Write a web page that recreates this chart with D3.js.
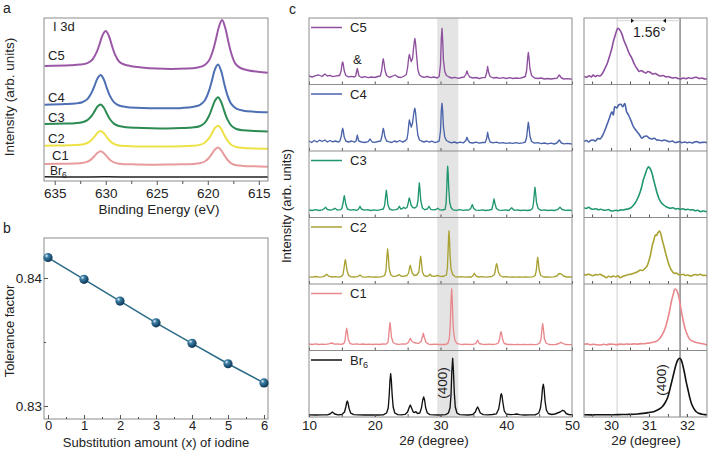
<!DOCTYPE html>
<html><head><meta charset="utf-8">
<script src="https://cdn.jsdelivr.net/npm/d3@7"></script>
<style>body{margin:0;background:#fff}</style>
</head><body>
<svg id="chart" width="709" height="451"></svg>
<script>
// ---------------- DATA ----------------
// Panel a: I 3d XPS (binding energy eV, intensity arb.)
const xpsE_C5 = [636,633.5,632.5,631.8,631.3,630.9,630.6,630.3,630.0,629.7,629.4,629.1,628.7,628.2,627.5,626.5,625.0,623.6,622.1,621.1,620.4,619.9,619.5,619.2,618.9,618.6,618.3,618.0,617.7,617.3,616.8,616.1,615.1,614.1];
const xpsE = [636,634,633,632.3,631.8,631.4,631.1,630.8,630.5,630.2,629.9,629.6,629.2,628.7,628.0,627.0,625.5,624.0,622.5,621.5,620.8,620.3,619.9,619.6,619.3,619.0,618.7,618.4,618.1,617.7,617.2,616.5,615.5,614.1];
const xpsC5 = [115,115.7,116.4,117.9,121.5,128.7,137,146.1,150,145.3,135.6,126.7,119.5,116.5,114.8,113.6,112.4,112,112.4,113.3,115.3,120.3,130.3,142,154.5,161,153.5,140,127.7,117.4,113,110.8,109.3,108.3];
const xpsC4 = [76.3,76.9,77.5,78.8,81.9,88.1,95.2,102.8,106,101.8,93.2,85.4,78.9,75.5,74,73.2,72.8,72.7,73.1,74,75.9,80.5,89.7,100.3,111.7,116.5,110.3,97.8,86.5,77.1,72.3,70.3,69.3,68.7];
const xpsC3 = [57,57.4,57.8,58.7,60.8,65,69.6,74.5,76.5,73.5,67.5,62,57.4,55,53.8,53.2,52.7,52.5,52.9,53.5,54.8,58.1,64.7,72.3,80.3,83.8,79.3,70.4,62.1,55.4,52,50.7,50.1,49.6];
const xpsC2 = [35.3,35.6,35.9,36.5,38,41,44.4,48.2,49.9,48,44,40.3,37.2,35.6,35,34.6,34.5,34.5,34.7,35.2,36.1,38.3,42.6,47.6,53.1,55.3,52.4,46.3,40.9,36.3,34,33,32.4,32.2];
const xpsC1 = [17,17.3,17.5,18,19.3,21.9,25,28.2,29.7,28,24.6,21.3,18.7,17.3,16.8,16.6,16.3,16.4,16.7,17,17.7,19.5,23,27.2,31.5,33.4,30.9,26.1,21.5,17.7,15.8,15.1,14.7,14.3];
const xpsBr6 = [[636,4.3],[633,4],[630,4.2],[627,3.9],[624,4.1],[621,4],[618,4.1],[615,3.9],[614.1,4]];
const xpsTicks = [635,630,625,620,615];
const xpsMinor = [632.5,627.5,622.5,617.5];

// Panel b: tolerance factor
const subX = [0,1,2,3,4,5,6];
const tolerance = [0.8416,0.8399,0.8382,0.8365,0.8349,0.8333,0.8318];
const tolTicks = [0.83,0.84];

// Panel c: XRD (2theta, intensity in panel units)
const xrdC5 = [[10,8.5],[10.5,7.5],[11,8.8],[11.5,9.5],[12,8],[12.4,10.5],[12.8,8.5],[13.2,9.2],[13.6,7.8],[14,8.3],[14.5,9],
[14.65,8.8],[14.9,14],[15.02,20.5],[15.12,22.5],[15.22,20],[15.35,14],[15.6,9],[16,7.6],[16.5,8.2],[16.9,7.5],
[17.1,8.5],[17.25,13.5],[17.35,16],[17.45,13],[17.6,8.5],[18,7],[18.5,7.8],[19,6.8],[19.5,7.5],[20,7],[20.5,8],
[20.85,8.5],[21.05,14],[21.2,22.5],[21.3,25.7],[21.4,22],[21.55,14.5],[21.8,9],[22.2,7.2],[22.6,8],[23.1,9.5],[23.5,7.5],[24,7],[24.5,8.5],
[24.8,10],[25.0,17],[25.15,26],[25.26,30],[25.38,27],[25.55,23],[25.75,26],[25.9,36],[26.02,43],[26.1,46],[26.2,42],[26.35,30],[26.55,15],[26.8,9.5],
[27.1,8],[27.5,7.2],[28,8],[28.5,6.8],[29,7.5],[29.5,6.5],
[29.8,8],[30.0,20],[30.12,45],[30.23,56],[30.33,44],[30.45,24],[30.65,13],[30.9,9],
[31.3,7.5],[31.7,6.5],[32.2,7.2],[32.7,6.2],[33.2,7],[33.6,7.5],[33.85,10],[34.03,13.5],[34.2,10],[34.45,7.5],
[34.9,6.5],[35.4,7],[35.9,6],[36.4,6.8],[36.8,7],[37.0,11],[37.17,18],[37.32,12],[37.55,8],
[38,6.5],[38.5,7],[39,6.2],[39.5,6.8],[40,6],[40.5,6.8],[41,6],[41.5,6.5],[42,6.2],[42.5,7],[42.9,8],
[43.1,14],[43.25,26],[43.36,32],[43.46,27],[43.6,16],[43.85,9],[44.3,6.5],[44.8,6],[45.3,6.5],[45.8,5.5],[46.3,6],[46.8,5.5],[47.3,6],[47.7,6.2],
[48.07,9.5],[48.4,6.5],[48.8,5.5],[49.3,5.8],[50,5.2]];
const xrdC4 = [[10,10],[10.4,8.5],[10.8,10.5],[11.2,9],[11.6,10.8],[12,9.5],[12.4,11],[12.8,9],[13.2,10.5],[13.6,9.2],[14,10],[14.5,9],
[14.7,10],[14.92,15],[15.03,20],[15.12,22.7],[15.22,20],[15.35,14],[15.6,10],[16,9],[16.5,10],[16.9,8.8],
[17.15,10],[17.35,15.8],[17.55,10],[18,9],[18.5,8.5],[19,9.3],[19.3,12],[19.6,9],[20,8.6],[20.5,9.5],
[20.9,10],[21.1,15],[21.22,20],[21.3,22.5],[21.4,20],[21.55,14],[21.8,10],[22.2,9.2],[22.6,8.5],[23,10],[23.4,9],[23.8,10.5],[24.2,9],[24.6,10],
[24.9,12],[25.05,18],[25.18,27],[25.26,31],[25.38,28],[25.55,24],[25.75,28],[25.9,36],[26.02,41],[26.1,42.7],[26.2,39],[26.35,28],[26.55,16],[26.8,11],
[27.1,10],[27.5,9],[27.9,10],[28.3,8.8],[28.7,9.8],[29.1,8.5],[29.5,9.2],
[29.8,10],[30.0,20],[30.12,40],[30.23,47.7],[30.33,40],[30.45,24],[30.65,14],[30.9,10.5],
[31.3,9],[31.7,8.2],[32.1,9],[32.5,8],[33,8.8],[33.5,8.2],[33.85,10.5],[34.03,13.7],[34.2,10.5],[34.45,8.5],
[34.9,8],[35.4,8.8],[35.9,7.8],[36.4,8.5],[36.8,8.5],[37.0,12],[37.17,18.7],[37.32,13],[37.55,9],
[38,8.2],[38.5,8.8],[39,7.8],[39.5,8.4],[40,7.6],[40.5,8.2],[41,7.6],[41.5,8.3],[42,7.6],[42.5,8.2],[42.9,9],
[43.1,14],[43.25,23],[43.36,28.7],[43.46,24],[43.6,15],[43.85,9.5],[44.3,7.8],[44.8,8.3],[45.3,7.4],[45.8,8],[46.3,7.2],[46.8,7.8],[47.3,7],[47.7,8],
[48.07,11],[48.4,8],[48.8,7.2],[49.3,7.6],[50,7]];
const xrdC3 = [[10,7.5],[10.5,7],[11,7.8],[11.5,7],[12,7.6],[12.25,8.5],[12.53,10.2],[12.8,8],[13.2,7.3],[13.6,7.8],[13.95,9.2],[14.3,7.5],[14.8,7.8],
[15.0,9],[15.2,15],[15.3,19.5],[15.37,21.8],[15.45,19],[15.6,13],[15.85,8.5],
[16.3,7.4],[16.8,7.8],[17.3,7.2],[17.55,8.5],[17.76,11.2],[17.95,8.5],[18.4,7.3],[18.9,7.8],[19.4,7],[19.9,7.6],[20.4,7.2],[20.9,7.8],[21.3,8.5],
[21.5,12],[21.65,21],[21.76,27.2],[21.86,22],[22.0,13],[22.25,8.5],
[22.7,7.4],[23.2,7.8],[23.5,8.5],[23.74,11.2],[23.95,8.5],[24.2,9],[24.4,10.2],[24.65,9],[24.9,10],
[25.08,14],[25.18,18],[25.26,19.5],[25.36,17],[25.55,12],[25.8,10],[26.1,9.5],[26.4,11],
[26.58,17],[26.7,29],[26.78,34.5],[26.87,29],[27.0,17],[27.25,9.5],
[27.6,7.8],[28.0,8.5],[28.25,11.2],[28.5,8.2],[28.9,7.6],[29.3,8],[29.57,9.2],[29.85,7.8],[30.3,7.5],[30.7,8.2],
[30.85,14],[30.97,32],[31.03,45],[31.09,51.2],[31.16,45],[31.25,30],[31.4,15],[31.6,10],
[31.9,7.6],[32.4,7.2],[32.9,7.8],[33.4,7.1],[33.9,7.6],[34.3,7.4],[34.6,9],[34.84,12.9],[35.05,9],[35.4,7.4],[35.9,7.2],[36.4,7.6],[36.9,7],[37.4,7.5],[37.8,8],
[37.98,13],[38.14,18.5],[38.28,14],[38.5,9],[38.9,7.4],[39.4,7.2],[39.9,7.6],[40.4,7],[40.82,9.7],[41.2,7.2],[41.7,7.6],[42.2,7],[42.7,7.4],[43.2,7],[43.7,7.5],[44.0,9],
[44.15,15],[44.28,25],[44.37,30.2],[44.46,25],[44.6,15],[44.85,9],
[45.3,7.2],[45.8,7.6],[46.3,7],[46.8,7.4],[47.3,7],[47.8,7.8],[48.17,10.2],[48.5,8],[49,7.2],[49.5,7.4],[50,7]];
const xrdC2 = [[10,7.2],[10.5,6.8],[11,7.5],[11.5,6.8],[12,7.2],[12.4,8],[12.69,9.7],[13,7.8],[13.5,7],[14,7.4],[14.5,6.9],[14.9,7.5],
[15.15,9],[15.33,16],[15.45,22],[15.53,24.3],[15.62,21],[15.77,14],[16.0,8.8],
[16.4,7.2],[16.9,7],[17.4,7.4],[17.76,9],[18.1,7.2],[18.6,6.8],[19.1,7.3],[19.6,6.9],[20.1,7.2],[20.6,6.8],[21.1,7.3],[21.5,8.5],
[21.7,13],[21.85,27],[21.96,35],[22.06,28],[22.2,15],[22.45,9],
[22.8,7.5],[23.2,7.8],[23.5,8.5],[23.7,9.5],[23.95,8],[24.4,7.6],[24.9,8.5],
[25.15,11],[25.3,16.5],[25.4,18.7],[25.5,16],[25.7,11],[26.0,8.5],[26.4,9],
[26.72,12],[26.88,23],[26.98,27.7],[27.08,23],[27.25,12],[27.5,8.5],
[27.9,7.6],[28.2,8.2],[28.4,9.7],[28.65,8],[29.0,7.6],[29.3,8],[29.57,8.7],[29.85,7.8],[30.2,7.5],[30.6,8],[30.9,9],
[31.05,16],[31.17,36],[31.23,47],[31.29,53],[31.36,46],[31.45,30],[31.6,15],[31.85,9.5],
[32.2,7.4],[32.7,7],[33.2,7.3],[33.7,6.8],[34.2,7.2],[34.7,7],[34.95,8.5],[35.15,10.7],[35.35,8.2],[35.8,7],[36.3,7.3],[36.8,6.9],[37.3,7.2],[37.8,7.5],[38.2,9.5],
[38.35,14],[38.45,18.5],[38.54,20.3],[38.64,18],[38.8,12],[39.05,8.5],
[39.5,7],[40,7.3],[40.5,6.8],[41,7.2],[41.5,6.8],[42,7.2],[42.5,6.8],[43,7.1],[43.5,6.8],[44,7.2],[44.4,8.5],
[44.58,14],[44.7,23],[44.78,26.7],[44.87,23],[45.0,14],[45.25,8.5],
[45.7,7],[46.2,7.2],[46.7,6.8],[47.2,7.2],[47.7,8],[47.95,10],[48.17,10.5],[48.4,9.8],[48.7,8],[49.2,7],[49.6,7.2],[50,6.8]];
const xrdC1 = [[10,6.5],[10.5,6],[11,6.6],[11.5,6],[12,6.4],[12.5,6.1],[13,6.6],[13.45,7.5],[13.9,6.3],[14.4,6.5],[14.9,6.2],[15.3,7],
[15.48,10],[15.62,18],[15.73,22.2],[15.83,18.5],[15.98,11],[16.25,7],
[16.7,6.2],[17.2,6.6],[17.7,6.1],[18.2,6.5],[18.7,6],[19.2,6.4],[19.7,6],[20.2,6.4],[20.7,6],[21.2,6.5],[21.7,6.3],[22.0,8],
[22.1,13],[22.23,23],[22.32,27.8],[22.41,23],[22.55,13],[22.8,8],
[23.2,6.5],[23.7,6.2],[24.2,6.6],[24.7,6.4],[25.1,8],[25.41,12.2],[25.65,9],[25.95,8],[26.3,7.5],[26.7,7.2],[27.05,9],
[27.22,13],[27.39,17.2],[27.55,13],[27.8,8],
[28.2,6.4],[28.7,6],[29.2,6.3],[29.7,6],[30.2,6.2],[30.7,6],[31.1,6.8],
[31.35,12],[31.5,28],[31.6,50],[31.7,61.5],[31.78,52],[31.88,32],[32.0,18],[32.2,10],[32.5,7],
[32.9,6.3],[33.4,6],[33.9,6.3],[34.4,6],[34.9,6.2],[35.35,6.8],[35.65,10.2],[35.9,7],[36.4,6.2],[36.9,6],[37.4,6.3],[37.9,6],[38.4,6.3],[38.8,7.5],
[38.98,11],[39.1,16.5],[39.2,18.9],[39.3,16.5],[39.45,11],[39.7,7],
[40.2,6],[40.7,6.2],[41.2,5.9],[41.7,6.2],[42.2,5.8],[42.7,6.1],[43.2,5.8],[43.7,6],[44.2,5.8],[44.7,6.1],[45.1,7.5],
[45.3,12],[45.44,22],[45.54,26.9],[45.64,22],[45.8,12],[46.05,7.5],
[46.5,6],[47,5.8],[47.5,6],[48,7],[48.3,8.2],[48.6,7.2],[49,6],[49.5,5.8],[50,5.9]];
const xrdBr6 = [[10,2.2],[11,2],[12,2.1],[12.8,2.2],[13.2,3],[13.55,5],[13.9,3],[14.4,2.2],[15.0,2.5],[15.4,5],
[15.6,10],[15.73,14.5],[15.83,16],[15.93,14],[16.1,8.5],[16.35,3.8],[16.8,2.3],
[17.5,2.1],[18.5,2],[19.5,2.1],[20.5,2],[21.3,2.2],[21.8,4],
[22.05,9],[22.2,22],[22.32,37],[22.42,43.3],[22.52,37],[22.65,22],[22.8,10],[23.05,4],[23.5,2.3],
[24.0,2.2],[24.6,2.6],[25.0,5],[25.2,9],[25.41,12],[25.6,9],[25.85,5],[26.05,4.5],[26.27,5.3],[26.5,3.5],[26.85,4],[27.1,9],[27.3,17],
[27.44,20],[27.58,17],[27.75,9],[28.0,4],[28.4,2.4],[29,2.1],[29.6,2],[30.2,2.1],[30.8,2.4],[31.2,4],
[31.45,9],[31.6,22],[31.72,45],[31.85,58.7],[31.97,46],[32.1,24],[32.25,10],[32.5,4],[32.9,2.4],
[33.5,2.1],[34.2,2],[34.9,2.5],[35.3,5],[35.5,8.5],[35.65,10],[35.8,8],[36.05,4],[36.5,2.3],[37.2,2.1],[37.9,2.5],[38.5,3.2],[38.85,8],
[39.05,16],[39.16,21.5],[39.25,23.3],[39.36,21],[39.5,14],[39.7,6],[40.0,3],
[40.6,2.3],[41.2,2.6],[41.6,3],[42.0,2.4],[42.8,2],[43.6,2.1],[44.4,2.2],[44.95,4],[45.2,9],
[45.38,18],[45.52,29],[45.64,32.7],[45.76,28],[45.9,16],[46.1,7],[46.4,3.5],
[46.9,2.5],[47.4,3],[47.8,4],[48.2,5],[48.58,6.7],[48.85,5.8],[49.1,3.5],[49.5,2.5],[50,2.2]];

// Panel c right: (400) region zoom
const zC5 = [[29.29,8],[29.36,7.2],[29.42,8.8],[29.48,7.5],[29.53,9.5],[29.58,8],[29.64,9],[29.71,8.5],[29.77,11],[29.84,16.2],[29.9,21],[29.97,29.5],[30.02,36],[30.06,42.8],[30.1,48],[30.14,53],[30.18,56.2],[30.22,55],[30.28,51.2],[30.34,44],[30.41,37.8],[30.48,31],[30.55,26.2],[30.62,20],[30.68,16.2],[30.75,13],[30.8,14],[30.85,12.8],[30.92,11.5],[30.97,13],[31.03,12.2],[31.1,10.5],[31.17,11],[31.24,9.2],[31.3,8.5],[31.38,9],[31.45,7.5],[31.5,8],[31.56,7.2],[31.63,6.5],[31.7,7],[31.76,6],[31.83,5.5],[31.9,6.5],[31.97,5.8],[32.05,6.8],[32.12,6],[32.18,6.8],[32.25,7.2],[32.32,6],[32.4,6.5],[32.47,5.5],[32.54,5.8]];
const zC4 = [[29.29,9.3],[29.35,10.5],[29.41,9],[29.47,10.8],[29.53,11],[29.59,10],[29.65,12.5],[29.71,12],[29.77,15],[29.84,21],[29.9,27],[29.97,34.3],[30.02,39.3],[30.06,36],[30.1,44.3],[30.15,43],[30.2,46],[30.26,46.7],[30.31,44.3],[30.36,47.5],[30.41,39.3],[30.46,36],[30.5,32.7],[30.55,28],[30.59,24.3],[30.65,21],[30.72,17.7],[30.77,15],[30.81,12.7],[30.87,14.5],[30.94,15],[31.0,13],[31.08,12],[31.15,12.8],[31.2,11],[31.26,11],[31.33,10.2],[31.4,11],[31.48,10],[31.55,9.2],[31.62,10],[31.68,8.5],[31.74,8.7],[31.8,9.5],[31.87,8.3],[31.93,9],[32.0,8.3],[32.07,8.8],[32.14,8],[32.2,9],[32.27,9.3],[32.34,8.2],[32.4,8.6],[32.47,8.8],[32.54,8.3]];
const zC3 = [[29.29,9.8],[29.35,9],[29.41,10.2],[29.47,8.8],[29.53,8.2],[29.6,8.8],[29.67,7.8],[29.73,8.3],[29.79,7.5],[29.86,7.2],[29.93,8],[29.99,6.8],[30.06,6.5],[30.13,7.3],[30.19,6.8],[30.26,7.6],[30.32,7.5],[30.39,8.2],[30.45,8.5],[30.5,9.2],[30.56,11],[30.63,14.2],[30.7,19],[30.77,25.8],[30.81,31],[30.85,37.5],[30.9,43],[30.95,48.5],[30.99,50.8],[31.03,49],[31.08,44.2],[31.12,38],[31.17,30.8],[31.21,25],[31.26,19.2],[31.32,15],[31.39,12.5],[31.45,10.8],[31.5,10],[31.56,9.2],[31.63,9.8],[31.7,8.5],[31.76,9],[31.83,8.2],[31.9,8.8],[31.96,7.8],[32.03,8.3],[32.09,7.5],[32.16,7.8],[32.22,6.8],[32.29,7.2],[32.36,5.8],[32.43,6.5],[32.49,6],[32.54,5.8]];
const zC2 = [[29.29,9.7],[29.35,9],[29.41,10],[29.47,8.8],[29.53,8.3],[29.59,9.5],[29.65,9],[29.71,9.7],[29.77,8.5],[29.83,7.5],[29.88,6.3],[29.94,7.8],[30.0,7],[30.06,8],[30.12,7.2],[30.18,8.2],[30.24,6.3],[30.3,7.5],[30.36,8.2],[30.41,9],[30.47,9.5],[30.53,9.8],[30.59,10.7],[30.65,11.5],[30.71,12.5],[30.77,14],[30.83,13.5],[30.9,15.7],[30.95,18],[30.99,22.3],[31.04,29],[31.08,37.3],[31.13,44],[31.17,49],[31.2,48.5],[31.23,50.7],[31.28,53],[31.32,49],[31.35,44],[31.4,37],[31.44,30.7],[31.49,24],[31.53,19],[31.59,14],[31.66,10.7],[31.72,11],[31.78,9.5],[31.83,9],[31.9,9.8],[31.96,8.5],[32.03,9],[32.09,8],[32.16,8.8],[32.22,9.5],[32.29,9],[32.36,9.7],[32.42,8.5],[32.48,8.8],[32.54,8]];
const zC1 = [[29.29,6.2],[29.37,6.6],[29.45,5.8],[29.53,6.3],[29.62,5.8],[29.71,5.5],[29.8,6.2],[29.88,5.8],[29.97,6.4],[30.06,6.2],[30.15,5.9],[30.24,6.4],[30.33,6.1],[30.41,6.5],[30.5,6.2],[30.6,6.6],[30.7,6.4],[30.8,6.9],[30.88,6.7],[30.94,7.2],[31.02,7.5],[31.1,8.2],[31.16,8.8],[31.21,9.5],[31.27,11.5],[31.33,14.5],[31.39,18.8],[31.45,25],[31.5,32.2],[31.55,41],[31.6,50.5],[31.64,56],[31.67,60.5],[31.7,61.5],[31.74,59.5],[31.78,55],[31.81,48.8],[31.85,40],[31.89,32.2],[31.93,25],[31.98,18.8],[32.03,14],[32.09,10.5],[32.15,9.5],[32.2,8.5],[32.27,7.8],[32.34,7.2],[32.4,6.8],[32.47,6.3],[32.54,5.5]];
const zBr6 = [[29.29,2.2],[29.5,2.1],[29.7,2.3],[29.9,2.2],[30.06,2.3],[30.3,2.5],[30.5,2.6],[30.7,3],[30.85,3.6],[31.0,4.5],[31.12,5.3],[31.25,7.5],[31.35,10.3],[31.43,14.5],[31.5,20.3],[31.55,27.5],[31.6,35.3],[31.66,44.5],[31.71,52],[31.76,57],[31.81,58.7],[31.85,57],[31.89,52],[31.94,43.5],[31.98,35.3],[32.03,27],[32.07,20.3],[32.12,13.5],[32.18,8.7],[32.24,5.5],[32.31,3.7],[32.4,2.8],[32.47,2.4],[32.54,2.3]];

const seriesNames = ["C5","C4","C3","C2","C1","Br6"];
const xrdTicks = [10,20,30,40,50];
const xrdMinor = [15,25,35,45];
const zoomTicks = [30,31,32];
const zoomMinor = [29.5,30.5,31.5];
const refLines = [30.16, 31.82];
const band = [29.5, 32.7];
const shiftLabel = "1.56°";

// ---------------- DRAW ----------------
const FONT = "Arial, 'Liberation Sans', Helvetica, sans-serif";
const svg = d3.select("#chart").attr("font-family", FONT);
const defs = svg.append("defs");
const frameColor = "#8c8c8c";

function styleAxis(g, fs) {
  g.select(".domain").remove();
  g.selectAll(".tick line").attr("stroke", "#555");
  g.selectAll(".tick text").attr("font-size", fs || 13).attr("fill", "#222").attr("font-family", FONT);
}
function clip(id, x, y, w, h) {
  defs.append("clipPath").attr("id", id).append("rect").attr("x", x).attr("y", y).attr("width", w).attr("height", h);
  return "url(#" + id + ")";
}
function label(txt, x, y, opts = {}) {
  const t = svg.append("text").attr("x", x).attr("y", y).attr("font-size", opts.fs || 13).attr("fill", "#222")
    .attr("text-anchor", opts.anchor || "start").text(txt);
  if (opts.rot) t.attr("transform", `rotate(-90,${x},${y})`);
  return t;
}
function brLabel(x, y, fs) {
  const t = svg.append("text").attr("x", x).attr("y", y).attr("font-size", fs).attr("fill", "#222");
  t.append("tspan").text("Br");
  t.append("tspan").attr("font-size", fs * 0.7).attr("dy", 3).text("6");
  return t;
}

// Panel letters
label("a", 3, 13, {fs: 14});
label("b", 3, 233, {fs: 14});
label("c", 289, 14, {fs: 14});

// ===== Panel a =====
const aL = 44, aR = 268, aT = 18, aB = 181;
const ax = d3.scaleLinear().domain([636.05, 614.1]).range([aL, aR]);
const ay = d3.scaleLinear().domain([0, 163]).range([aB, aT]);
const aClip = clip("clipA", aL, aT, aR - aL, aB - aT);
const aColors = {C5: "#9a58a6", C4: "#4d6fb3", C3: "#2c8b52", C2: "#ece245", C1: "#e89b9d", Br6: "#222"};
const xpsSeries = [
  {k: "C5", pts: xpsE_C5.map((e, i) => [e, xpsC5[i]])},
  {k: "C4", pts: xpsE.map((e, i) => [e, xpsC4[i]])},
  {k: "C3", pts: xpsE.map((e, i) => [e, xpsC3[i]])},
  {k: "C2", pts: xpsE.map((e, i) => [e, xpsC2[i]])},
  {k: "C1", pts: xpsE.map((e, i) => [e, xpsC1[i]])},
  {k: "Br6", pts: xpsBr6}
];
const aLine = d3.line().x(d => ax(d[0])).y(d => ay(d[1])).curve(d3.curveCatmullRom.alpha(0.5));
const aG = svg.append("g").attr("clip-path", aClip);
xpsSeries.forEach(s => {
  aG.append("path").attr("d", aLine(s.pts)).attr("fill", "none").attr("stroke", aColors[s.k])
    .attr("stroke-width", s.k === "Br6" ? 1.5 : 2);
});
svg.append("rect").attr("x", aL).attr("y", aT).attr("width", aR - aL).attr("height", aB - aT)
  .attr("fill", "none").attr("stroke", frameColor);
svg.append("g").attr("transform", `translate(0,${aB})`)
  .call(d3.axisBottom(ax).tickValues(xpsTicks).tickFormat(d3.format("d")).tickSize(4).tickPadding(3))
  .call(g => styleAxis(g, 13.5));
svg.append("g").attr("transform", `translate(0,${aB})`)
  .call(d3.axisBottom(ax).tickValues(xpsMinor).tickFormat("").tickSize(3)).call(g => styleAxis(g));
label("I 3d", 53, 31);
label("C5", 48, 60);
label("C4", 48, 102);
label("C3", 48, 122);
label("C2", 48, 143);
label("C1", 52, 160);
brLabel(50, 175, 12);
label("Intensity (arb. units)", 14, 97, {anchor: "middle", rot: true, fs: 13.5});
label("Binding Energy (eV)", 159, 214, {anchor: "middle", fs: 13.5});

// ===== Panel b =====
const bL = 44, bR = 268, bT = 238, bB = 419;
const bx = d3.scaleLinear().domain([-0.111, 6.111]).range([bL, bR]);
const by = d3.scaleLinear().domain([0.828984, 0.843125]).range([bB, bT]);
const grad = defs.append("radialGradient").attr("id", "ball").attr("cx", "35%").attr("cy", "32%").attr("r", "70%");
grad.append("stop").attr("offset", "0%").attr("stop-color", "#e4f2fa");
grad.append("stop").attr("offset", "30%").attr("stop-color", "#3d7fa6");
grad.append("stop").attr("offset", "100%").attr("stop-color", "#0b3352");
svg.append("rect").attr("x", bL).attr("y", bT).attr("width", bR - bL).attr("height", bB - bT)
  .attr("fill", "none").attr("stroke", frameColor);
svg.append("g").attr("transform", `translate(0,${bB})`)
  .call(d3.axisBottom(bx).tickValues(subX).tickFormat(d3.format("d")).tickSize(-4).tickPadding(2))
  .call(g => styleAxis(g, 13));
svg.append("g").attr("transform", `translate(0,${bB})`)
  .call(d3.axisBottom(bx).tickValues(subX.slice(0, 6).map(v => v + 0.5)).tickFormat("").tickSize(-2)).call(g => styleAxis(g));
svg.append("g").attr("transform", `translate(${bL},0)`)
  .call(d3.axisLeft(by).tickValues(tolTicks).tickFormat(d3.format(".2f")).tickSize(-4).tickPadding(2))
  .call(g => styleAxis(g, 13.5));
svg.append("g").attr("transform", `translate(${bL},0)`)
  .call(d3.axisLeft(by).tickValues([0.835]).tickFormat("").tickSize(-2)).call(g => styleAxis(g));
const tolPts = subX.map((x, i) => [x, tolerance[i]]);
svg.append("path").attr("d", d3.line().x(d => bx(d[0])).y(d => by(d[1]))(tolPts))
  .attr("fill", "none").attr("stroke", "#2a6a86").attr("stroke-width", 1.5);
svg.append("g").selectAll("circle").data(tolPts).join("circle")
  .attr("cx", d => bx(d[0])).attr("cy", d => by(d[1])).attr("r", 4.6).attr("fill", "url(#ball)");
label("Tolerance factor", 14, 331, {anchor: "middle", rot: true});
label("Substitution amount (x) of iodine", 156, 446.5, {anchor: "middle", fs: 13});

// ===== Panel c =====
const cT = 18, cB = 417, ph = (cB - cT) / 6;
const mL = 309, mR = 572, zL = 584, zR = 707;
const mx = d3.scaleLinear().domain([10, 50]).range([mL, mR]);
const zx = d3.scaleLinear().domain([29.287, 32.53]).range([zL, zR]);
const cColors = {C5: "#8d4f9e", C4: "#4a63ab", C3: "#1f9670", C2: "#a9a233", C1: "#e9888d", Br6: "#111"};
const xrdData = {C5: xrdC5, C4: xrdC4, C3: xrdC3, C2: xrdC2, C1: xrdC1, Br6: xrdBr6};
const zoomData = {C5: zC5, C4: zC4, C3: zC3, C2: zC2, C1: zC1, Br6: zBr6};

// band
svg.append("rect").attr("x", mx(band[0])).attr("y", cT).attr("width", mx(band[1]) - mx(band[0]))
  .attr("height", cB - cT).attr("fill", "#e4e4e4");
// zoom reference lines
svg.append("line").attr("x1", zx(refLines[0])).attr("x2", zx(refLines[0])).attr("y1", cT).attr("y2", cB)
  .attr("stroke", "#cfcfcf").attr("stroke-width", 1);
svg.append("line").attr("x1", zx(refLines[1])).attr("x2", zx(refLines[1])).attr("y1", cT).attr("y2", cB)
  .attr("stroke", "#8a8a8a").attr("stroke-width", 1.5);

seriesNames.forEach((k, i) => {
  const top = cT + i * ph, bot = top + ph;
  const y = d3.scaleLinear().domain([0, ph]).range([bot, top]);
  const mClip = clip("cm" + i, mL, top, mR - mL, ph);
  const zClip = clip("cz" + i, zL, top, zR - zL, ph);
  const lm = d3.line().x(d => mx(d[0])).y(d => y(d[1]));
  const lz = d3.line().x(d => zx(d[0])).y(d => y(d[1])).curve(d3.curveCatmullRom.alpha(0.5));
  svg.append("path").attr("clip-path", mClip).attr("d", lm(xrdData[k])).attr("fill", "none")
    .attr("stroke", cColors[k]).attr("stroke-width", 1.35).attr("stroke-linejoin", "round");
  svg.append("path").attr("clip-path", zClip).attr("d", lz(zoomData[k])).attr("fill", "none")
    .attr("stroke", cColors[k]).attr("stroke-width", 1.6).attr("stroke-linejoin", "round");
  // inner ticks on the bottom of each sub-panel
  svg.append("g").attr("transform", `translate(0,${bot})`)
    .call(d3.axisBottom(mx).tickValues(xrdTicks.concat(xrdMinor)).tickFormat("").tickSize(-3)).call(g => styleAxis(g));
  svg.append("g").attr("transform", `translate(0,${bot})`)
    .call(d3.axisBottom(zx).tickValues(zoomTicks.concat(zoomMinor)).tickFormat("").tickSize(-3)).call(g => styleAxis(g));
  // separators
  if (i > 0) {
    svg.append("line").attr("x1", mL).attr("x2", mR).attr("y1", top).attr("y2", top).attr("stroke", frameColor);
    svg.append("line").attr("x1", zL).attr("x2", zR).attr("y1", top).attr("y2", top).attr("stroke", frameColor);
  }
  // legend
  svg.append("line").attr("x1", 311).attr("x2", 342).attr("y1", top + 9.5).attr("y2", top + 9.5)
    .attr("stroke", cColors[k]).attr("stroke-width", 1.5);
  if (k === "Br6") brLabel(350, top + 14, 13); else label(k, 350, top + 14);
});
svg.append("rect").attr("x", mL).attr("y", cT).attr("width", mR - mL).attr("height", cB - cT)
  .attr("fill", "none").attr("stroke", frameColor);
svg.append("rect").attr("x", zL).attr("y", cT).attr("width", zR - zL).attr("height", cB - cT)
  .attr("fill", "none").attr("stroke", frameColor);
svg.append("g").attr("transform", `translate(0,${cB})`)
  .call(d3.axisBottom(mx).tickValues(xrdTicks).tickFormat(d3.format("d")).tickSize(-3).tickPadding(3.5))
  .call(g => styleAxis(g, 13.5));
svg.append("g").attr("transform", `translate(0,${cB})`)
  .call(d3.axisBottom(zx).tickValues(zoomTicks).tickFormat(d3.format("d")).tickSize(-3).tickPadding(3.5))
  .call(g => styleAxis(g, 13.5));

// annotations
label("&", 353, 64);
label("(400)", 447, 383, {anchor: "middle", rot: true, fs: 13.5});
label("(400)", 666, 380, {anchor: "middle", rot: true, fs: 13.5});
svg.append("line").attr("x1", zx(refLines[0])).attr("x2", zx(refLines[1])).attr("y1", 20.7).attr("y2", 20.7)
  .attr("stroke", "#d5d5d5").attr("stroke-width", 1);
svg.append("path").attr("d", "M631,18.5 L634,20.7 L631,22.9 Z").attr("fill", "#111");
svg.append("path").attr("d", "M666,18.5 L663,20.7 L666,22.9 Z").attr("fill", "#111");
label(shiftLabel, 633, 36.5, {fs: 14});

function thetaTitle(cx, y) {
  const t = svg.append("text").attr("x", cx).attr("y", y).attr("text-anchor", "middle").attr("font-size", 13.5).attr("fill", "#222");
  t.append("tspan").text("2");
  t.append("tspan").attr("font-style", "italic").text("θ");
  t.append("tspan").text(" (degree)");
}
thetaTitle(434, 444.5);
thetaTitle(646, 444.5);
label("Intensity (arb. units)", 291, 206, {anchor: "middle", rot: true});
</script>
</body></html>
